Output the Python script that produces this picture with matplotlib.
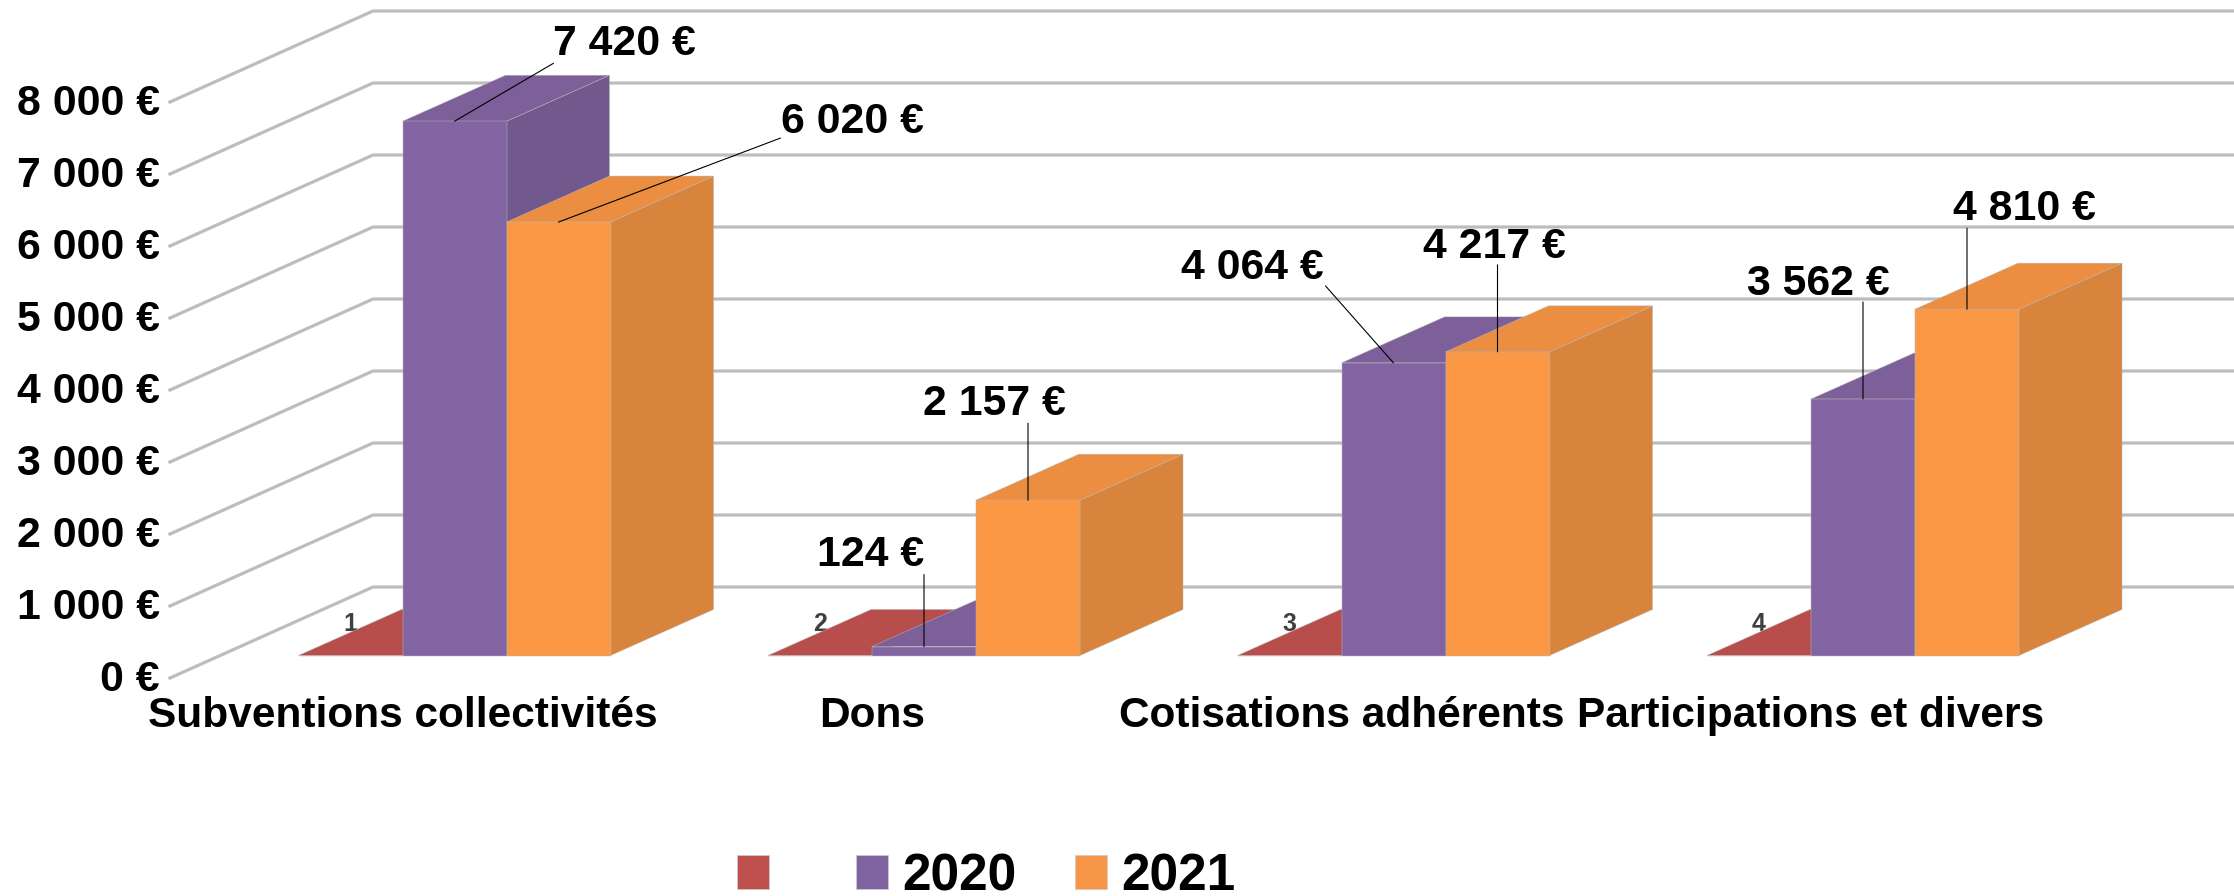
import matplotlib
matplotlib.use('Agg')
import matplotlib.pyplot as plt
from matplotlib.patches import Patch

plt.rcParams['font.family'] = ['Liberation Sans', 'DejaVu Sans']
plt.rcParams['font.weight'] = 'bold'

# data
categories = ['Subventions collectivités', 'Dons', 'Cotisations adhérents', 'Participations et divers']
numeros = ['1', '2', '3', '4']
serie_sans_nom = [0, 0, 0, 0]
valeurs_2020 = [7420, 124, 4064, 3562]
valeurs_2021 = [6020, 2157, 4217, 4810]
graduations = [0, 1000, 2000, 3000, 4000, 5000, 6000, 7000, 8000]
annees = ['2020', '2021']

# layout, in pixels of the 2234x896 picture
W, H = 2234, 896
PX_GROUPE = 469.5
PX_EURO = 0.072
X0, Y0 = 298.5, 655.5    # front left corner of the first group, on the floor
LARGEUR = 104 / PX_GROUPE
DX = 103 / PX_GROUPE     # depth of the 3D effect
DY = 46 / PX_EURO
MUR_X0 = (170 - X0) / PX_GROUPE
MUR_X1 = (373 - X0) / PX_GROUPE
MUR_Y0 = (Y0 - 678) / PX_EURO
MUR_Y1 = (Y0 - 587) / PX_EURO

COULEURS = {
    'rouge':  ('#B84E4C', '#B84E4C', '#A34543'),
    'violet': ('#8364A2', '#7D5F99', '#71588D'),
    'orange': ('#FB9845', '#EC8E41', '#D8843C'),
}
BORD = '#B5B5B5'

# (text centre dx, dy), (leader end dx, dy), in pixels from the top of the bar
LABELS_2020 = [((170, 77), (99, 58)), ((-53, 92), (0, 72)),
               ((-141, 95), (-68, 77)), ((-45, 115), (0, 97))]
LABELS_2021 = [((294, 100), (222, 84)), ((-34, 96), (0, 77)),
               ((-3, 105), (0, 87)), ((57, 100), (0, 81))]


def euros(v):
    return f'{v:,}'.replace(',', ' ') + ' €'


def dessine_barres(ax, decalage, valeurs, couleur):
    front, top, side = COULEURS[couleur]
    xs = [i + decalage * LARGEUR for i in range(len(valeurs))]
    for x, v in zip(xs, valeurs):
        # side then top, the front face comes from ax.bar
        ax.fill([x + LARGEUR, x + LARGEUR + DX, x + LARGEUR + DX, x + LARGEUR],
                [0, DY, v + DY, v], facecolor=side, edgecolor=BORD, linewidth=0.35, zorder=3 + decalage)
        ax.fill([x, x + DX, x + LARGEUR + DX, x + LARGEUR],
                [v, v + DY, v + DY, v], facecolor=top, edgecolor=BORD, linewidth=0.35, zorder=3 + decalage)
    ax.bar(xs, valeurs, width=LARGEUR, align='edge', color=front, edgecolor=BORD,
           linewidth=0.35, zorder=3 + decalage)
    return xs


def etiquettes(ax, xs, valeurs, positions):
    for x, v, (texte, fin) in zip(xs, valeurs, positions):
        point = (x + LARGEUR / 2, v)
        ax.annotate('', xy=point, xytext=fin, textcoords='offset pixels',
                    arrowprops=dict(arrowstyle='-', color='black', lw=0.8, shrinkA=0, shrinkB=0),
                    zorder=8)
        ax.annotate(euros(v), xy=point, xytext=texte, textcoords='offset pixels',
                    ha='center', va='center', fontsize=30.8, color='black', zorder=9)


fig = plt.figure(figsize=(W / 100, H / 100), dpi=100)
ax = fig.add_axes([0, 0, 1, 1])
ax.set_xlim(-X0 / PX_GROUPE, (W - X0) / PX_GROUPE)
ax.set_ylim((Y0 - H) / PX_EURO, Y0 / PX_EURO)
ax.axis('off')

for g in graduations:
    ax.plot([MUR_X0, MUR_X1, ax.get_xlim()[1]],
            [g + MUR_Y0, g + MUR_Y1, g + MUR_Y1],
            color='#BDBDBD', lw=2.3, solid_joinstyle='miter', zorder=1)
    ax.text(MUR_X0 - 10 / PX_GROUPE, g + MUR_Y0 - 2 / PX_EURO, euros(g), ha='right', va='center',
            fontsize=30.8, color='black', zorder=2)

for i, n in enumerate(numeros):
    ax.text(i + 52 / PX_GROUPE, 32 / PX_EURO, n, ha='center', va='center',
            fontsize=18, color='#404040', zorder=2)

dessine_barres(ax, 0, serie_sans_nom, 'rouge')
xs_2020 = dessine_barres(ax, 1, valeurs_2020, 'violet')
xs_2021 = dessine_barres(ax, 2, valeurs_2021, 'orange')

etiquettes(ax, xs_2020, valeurs_2020, LABELS_2020)
etiquettes(ax, xs_2021, valeurs_2021, LABELS_2021)

for i, cat in enumerate(categories):
    ax.text(i + 104 / PX_GROUPE, -60 / PX_EURO, cat, ha='center', va='center',
            fontsize=30.5, color='black', zorder=9)

poignees = [Patch(facecolor='#C0504D', edgecolor='#CCCCCC', linewidth=0.5),
            Patch(facecolor='#8064A2', edgecolor='#CCCCCC', linewidth=0.5),
            Patch(facecolor='#F79646', edgecolor='#CCCCCC', linewidth=0.5)]
fig.legend(poignees, [' '] + annees, ncols=3, frameon=False, fontsize=37,
           loc='center left', bbox_to_anchor=(737 / W, 1 - 877 / H),
           handlelength=0.62, handleheight=0.64, handletextpad=0.27,
           columnspacing=1.15, borderpad=0, borderaxespad=0)

fig.savefig('out.png', dpi=100)
plt.close(fig)
